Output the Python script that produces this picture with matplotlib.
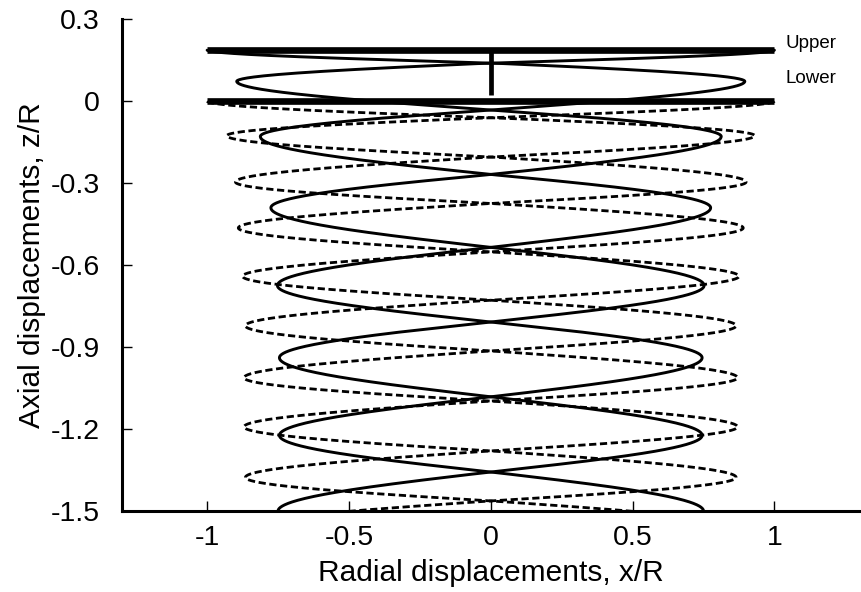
import numpy as np
import matplotlib
matplotlib.use("Agg")
import matplotlib.pyplot as plt

plt.rcParams['font.family'] = ['Liberation Sans', 'DejaVu Sans']

# rotor planes (z/R) and blade tip radius
upper_plane = 0.187
lower_plane = 0.0
shaft_bottom = 0.023
label_z = {"Upper": 0.21, "Lower": 0.085}

# upper rotor tip vortex: z at each half turn (x = +/-r), z at the
# quarter turns in between (x = 0), and the radius at each half turn
upper_tip_z = [0.187, 0.071, -0.131, -0.391, -0.675, -0.939, -1.223, -1.5]
upper_cross_z = [0.14, -0.032, -0.268, -0.535, -0.808, -1.082, -1.357]
upper_tip_r = [1.0, 0.895, 0.812, 0.775, 0.752, 0.745, 0.745, 0.75]

# lower rotor tip vortex
lower_tip_z = [0.0, -0.127, -0.296, -0.464, -0.641, -0.822, -1.012, -1.192, -1.377, -1.56]
lower_cross_z = [-0.06, -0.204, -0.374, -0.551, -0.728, -0.914, -1.097, -1.28, -1.463]
lower_tip_r = [1.0, 0.93, 0.90, 0.89, 0.875, 0.865, 0.87, 0.87, 0.865, 0.865]

x_ticks = [-1, -0.5, 0, 0.5, 1]
x_ticklabels = ["-1", "-0.5", "0", "0.5", "1"]
z_ticks = [0.3, 0, -0.3, -0.6, -0.9, -1.2, -1.5]
z_ticklabels = ["0.3", "0", "-0.3", "-0.6", "-0.9", "-1.2", "-1.5"]


def helix(tip_z, cross_z, tip_r, phase):
    # knots every quarter turn: tip, crossing, tip, ...
    zk = []
    for i in range(len(tip_z)):
        zk.append(tip_z[i])
        if i < len(cross_z):
            zk.append(cross_z[i])
    psi_k = np.arange(len(zk)) * np.pi / 2
    psi_tip = np.arange(len(tip_r)) * np.pi
    psi = np.linspace(0, psi_k[-1], 3000)
    z = np.interp(psi, psi_k, zk)
    r = np.interp(psi, psi_tip, tip_r)
    return r * np.cos(psi + phase), z


fig = plt.figure(figsize=(8.61, 5.92), dpi=100)
ax = fig.add_axes([0.1417, 0.1368, 0.8566, 0.8306])

for ph in (0, np.pi):
    x, z = helix(lower_tip_z, lower_cross_z, lower_tip_r, ph)
    ax.plot(x, z, color='black', lw=2.0, dashes=(2.6, 1.3))
for ph in (0, np.pi):
    x, z = helix(upper_tip_z, upper_cross_z, upper_tip_r, ph)
    ax.plot(x, z, color='black', lw=2.1, solid_capstyle='round')

# rotor discs and shaft
ax.plot([-1, 1], [upper_plane, upper_plane], color='black', lw=4.8, solid_capstyle='butt')
ax.plot([-1, 1], [lower_plane, lower_plane], color='black', lw=4.8, solid_capstyle='butt')
ax.plot([0, 0], [upper_plane, shaft_bottom], color='black', lw=3.4, solid_capstyle='butt')

for name, zl in label_z.items():
    ax.text(1.04, zl, name, ha='left', va='center', fontsize=13.5, clip_on=False)

ax.set_xlim(-1.3, 1.3)
ax.set_ylim(-1.5, 0.3)
ax.set_xticks(x_ticks)
ax.set_xticklabels(x_ticklabels)
ax.set_yticks(z_ticks)
ax.set_yticklabels(z_ticklabels)
ax.spines['top'].set_visible(False)
ax.spines['right'].set_visible(False)
ax.spines['left'].set_linewidth(2.2)
ax.spines['bottom'].set_linewidth(2.2)
ax.tick_params(direction='in', length=7, width=1, labelsize=20.5)
ax.tick_params(axis='y', pad=16)
ax.tick_params(axis='x', pad=10)
ax.set_xlabel("Radial displacements, x/R", fontsize=21.5, labelpad=6)
ax.set_ylabel("Axial displacements, z/R", fontsize=21.5, labelpad=3)

fig.savefig("out.png", dpi=100)
